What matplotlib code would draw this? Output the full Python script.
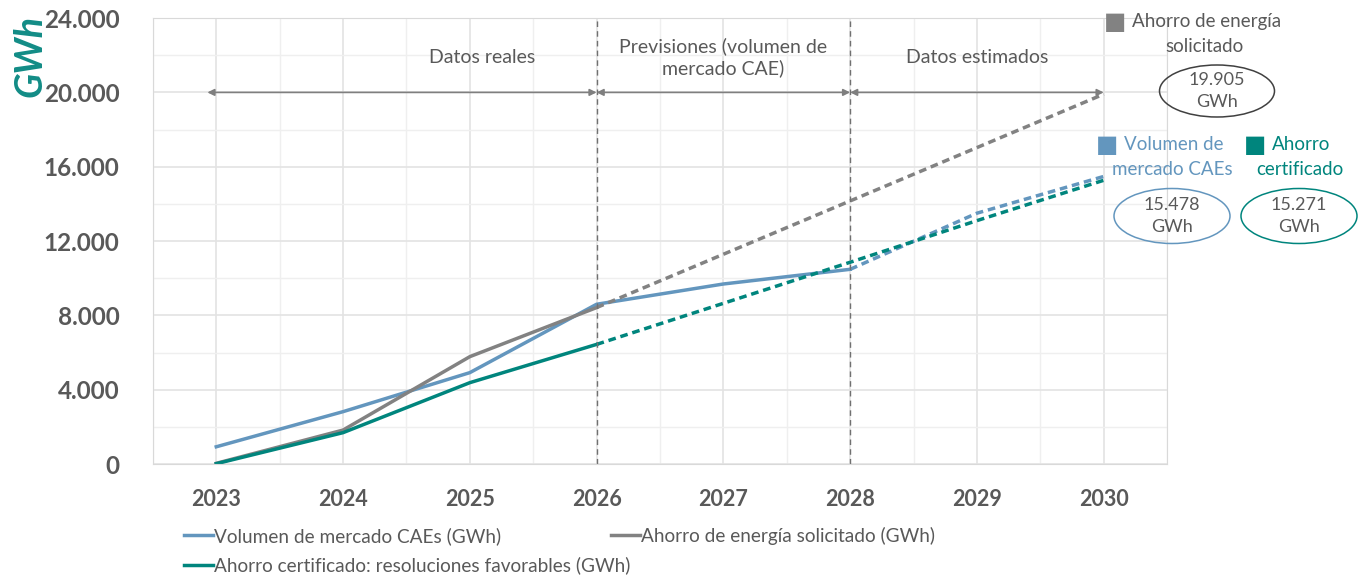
import matplotlib.pyplot as plt
from matplotlib.patches import Ellipse
from matplotlib.ticker import FuncFormatter, MultipleLocator

plt.rcParams['font.family'] = ['Lato', 'DejaVu Sans']

# data ------------------------------------------------------------------
years = [2023, 2024, 2025, 2026, 2027, 2028, 2029, 2030]
volumen = [930, 2820, 4920, 8600, 9690, 10480, 13500, 15478]
solicitado = [40, 1830, 5780, 8420, 11290, 14160, 17030, 19905]
certificado = [20, 1690, 4380, 6440, 8650, 10860, 13100, 15271]
# index where the real data stops and the dashed part begins
vol_cut = 5
sol_cut = 3
cert_cut = 3

phases = ['Datos reales', 'Previsiones (volumen de\nmercado CAE)', 'Datos estimados']
phase_x = [2025.1, 2027, 2029]
legend_labels = ['Volumen de mercado CAEs (GWh)',
                 'Ahorro de energía solicitado (GWh)',
                 'Ahorro certificado: resoluciones favorables (GWh)']

c_blue = '#6396BE'
c_gray = '#828282'
c_teal = '#00857D'
c_txt = '#595959'

W, H = 1365, 583
fig = plt.figure(figsize=(13.65, 5.83), dpi=100)
ax = fig.add_axes([0.112, 0.204, 0.743, 0.765])

ax.set_xlim(2022.5, 2030.5)
ax.set_ylim(0, 24000)

# grid
ax.yaxis.set_major_locator(MultipleLocator(4000))
ax.yaxis.set_minor_locator(MultipleLocator(2000))
ax.xaxis.set_minor_locator(MultipleLocator(0.5))
ax.set_xticks(years)
ax.grid(which='major', color='#e3e3e3', lw=1.2)
ax.grid(which='minor', color='#efefef', lw=1.0)
ax.set_axisbelow(True)
for s in ax.spines.values():
    s.set_color('#d9d9d9')
ax.tick_params(which='both', length=0)
ax.tick_params(axis='y', labelsize=17.5, labelcolor=c_txt, pad=24)
ax.tick_params(axis='x', labelsize=15.5, labelcolor=c_txt, pad=18)
for lab in ax.get_xticklabels() + ax.get_yticklabels():
    lab.set_fontweight('bold')
ax.yaxis.set_major_formatter(FuncFormatter(lambda v, p: f'{int(v):,}'.replace(',', '.')))

# lines: solid for real data, dashed for the rest
dash = (0, (2.2, 1.4))
l1, = ax.plot(years[:vol_cut + 1], volumen[:vol_cut + 1], color=c_blue, lw=2.5)
ax.plot(years[vol_cut:], volumen[vol_cut:], color=c_blue, lw=2.5, ls=dash)
l2, = ax.plot(years[:sol_cut + 1], solicitado[:sol_cut + 1], color=c_gray, lw=2.5)
ax.plot(years[sol_cut:], solicitado[sol_cut:], color=c_gray, lw=2.5, ls=dash)
l3, = ax.plot(years[:cert_cut + 1], certificado[:cert_cut + 1], color=c_teal, lw=2.5)
ax.plot(years[cert_cut:], certificado[cert_cut:], color=c_teal, lw=2.5, ls=dash)

# phase separators and arrows
for x in [2026, 2028]:
    ax.axvline(x, color='#707070', lw=1, ls=(0, (4, 3)))
bounds = [2022.93, 2026, 2028, 2030]
for i, name in enumerate(phases):
    ax.annotate('', xy=(bounds[i + 1], 20000), xytext=(bounds[i], 20000),
                arrowprops=dict(arrowstyle='<|-|>', color='#7f7f7f', lw=1.2,
                                mutation_scale=10, shrinkA=0, shrinkB=0))
    ax.text(phase_x[i], 21900, name, ha='center', va='center', fontsize=14,
            color=c_txt, linespacing=1.3)

# y label
fig.text(30 / W, 1 - 56 / H, 'GWh', rotation=90, ha='center', va='center', fontsize=27,
         fontweight='bold', fontstyle='italic', color='#128C86')

# right side callouts
def callout(sq, line1, line2, color, x2, value, ell, ecol):
    tcol = c_txt if color == c_gray else color
    fig.text(sq[0] / W, 1 - sq[1] / H, '\u25A0', color=color, fontsize=17,
             ha='center', va='center', family='DejaVu Sans')
    fig.text((sq[0] + 17) / W, 1 - sq[1] / H, line1, color=tcol, fontsize=13.5,
             ha='left', va='center')
    fig.text(x2 / W, 1 - (sq[1] + 24) / H, line2, color=tcol, fontsize=13.5,
             ha='center', va='center')
    ex, ey, ew, eh = ell
    fig.patches.append(Ellipse((ex / W, 1 - ey / H), ew / W, eh / H,
                               transform=fig.transFigure, fill=False,
                               edgecolor=ecol, lw=1.1))
    fig.text(ex / W, 1 - ey / H, value, ha='center', va='center', fontsize=13,
             color=c_txt, linespacing=1.45)

def fmt(v):
    return f'{v:,}'.replace(',', '.') + '\nGWh'

callout((1115, 22), 'Ahorro de energía', 'solicitado', c_gray, 1204,
        fmt(solicitado[-1]), (1217, 91, 115, 52), '#404040')
callout((1107, 145), 'Volumen de', 'mercado CAEs', c_blue, 1172,
        fmt(volumen[-1]), (1172, 216, 116, 55), c_blue)
callout((1255, 145), 'Ahorro', 'certificado', c_teal, 1300,
        fmt(certificado[-1]), (1299, 216, 116, 55), c_teal)

# legend: two rows, second column only on the first row
leg_kw = dict(loc='upper left', frameon=False, fontsize=13.7, labelcolor=c_txt,
              handlelength=1.5, handletextpad=0.1, borderaxespad=0, borderpad=0,
              labelspacing=0.6)
leg1 = fig.legend([l1, l3], [legend_labels[0], legend_labels[2]],
                  bbox_to_anchor=(184 / W, 1 - 527 / H), **leg_kw)
fig.legend([l2], [legend_labels[1]], bbox_to_anchor=(611 / W, 1 - 527 / H), **leg_kw)

fig.savefig('out.png', dpi=100)
